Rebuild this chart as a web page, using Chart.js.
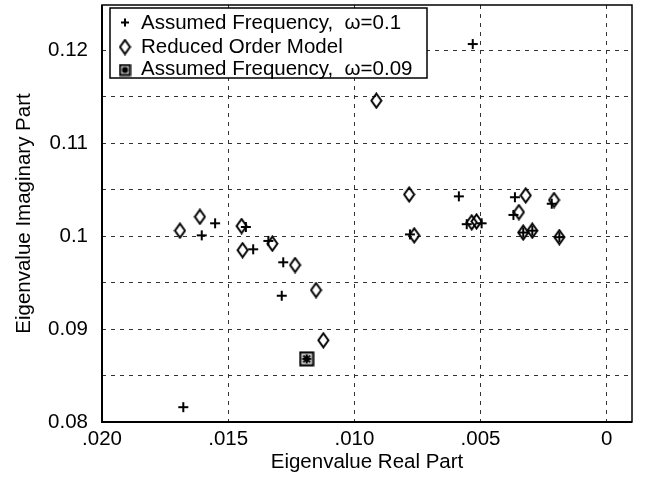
<!DOCTYPE html>
<html>
<head>
<meta charset="utf-8">
<script src="https://cdn.jsdelivr.net/npm/chart.js@4.4.1/dist/chart.umd.min.js"></script>
<style>
  body { margin: 0; background: #fff; }
  #wrap { width: 647px; height: 478px; }
</style>
</head>
<body>
<div id="wrap"><canvas id="eigChart" width="647" height="478"></canvas></div>
<script>
// Eigenvalues (real part, imaginary part)
const plusRe = [0.00531, 0.01678, 0.01552, 0.01605, 0.01430, 0.01401, 0.01341, 0.01282, 0.01288, 0.00780,
                0.00586, 0.00555, 0.00496, 0.00364, 0.00370, 0.00331, 0.00295, 0.00218, 0.00188];
const plusIm = [0.1207, 0.0816, 0.1014, 0.1001, 0.1010, 0.0986, 0.0995, 0.0972, 0.0936, 0.1002,
                0.1043, 0.1013, 0.1014, 0.1042, 0.1023, 0.1004, 0.1006, 0.1035, 0.0999];

const romRe = [0.01691, 0.01612, 0.01447, 0.01443, 0.01325, 0.01235, 0.01152, 0.01123, 0.00913, 0.00783,
               0.00763, 0.00535, 0.00516, 0.00348, 0.00321, 0.00331, 0.00295, 0.00209, 0.00188];
const romIm = [0.1006, 0.1021, 0.1011, 0.0985, 0.0992, 0.0969, 0.0942, 0.0888, 0.1146, 0.1045,
               0.1001, 0.1015, 0.1016, 0.1026, 0.1044, 0.1004, 0.1006, 0.1039, 0.0999];

const w09Re = [0.01189];
const w09Im = [0.0868];

const seriesNames = ['Assumed Frequency,  \u03c9=0.1', 'Reduced Order Model', 'Assumed Frequency,  \u03c9=0.09'];

// tick positions / labels
const xTicks = [0.020, 0.015, 0.010, 0.005, 0];
const xTickLabels = ['.020', '.015', '.010', '.005', '0'];
const yGrid = [0.08, 0.085, 0.09, 0.095, 0.1, 0.105, 0.11, 0.115, 0.12];
const yTickLabels = {0.08: '0.08', 0.09: '0.09', 0.1: '0.1', 0.11: '0.11', 0.12: '0.12'};

const FONT = 'Liberation Sans, Arial, Helvetica, sans-serif';
const FSIZE = 20.5;

// marker images
function plusMarker(n) {
  const c = document.createElement('canvas');
  c.width = n; c.height = n;
  const g = c.getContext('2d');
  g.strokeStyle = '#000'; g.lineWidth = 2;
  g.beginPath();
  g.moveTo(1, n / 2); g.lineTo(n - 1, n / 2);
  g.moveTo(n / 2, 1); g.lineTo(n / 2, n - 1);
  g.stroke();
  return c;
}
function diamondMarker() {
  const c = document.createElement('canvas');
  c.width = 13; c.height = 17;
  const g = c.getContext('2d');
  g.strokeStyle = '#000'; g.lineWidth = 2;
  g.beginPath();
  g.moveTo(6.5, 1.5); g.lineTo(11.5, 8.5); g.lineTo(6.5, 15.5); g.lineTo(1.5, 8.5);
  g.closePath();
  g.stroke();
  return c;
}
function squareStarMarker(n) {
  const c = document.createElement('canvas');
  c.width = n; c.height = n;
  const g = c.getContext('2d');
  const m = n / 2;
  g.fillStyle = '#c8c8c8';
  g.fillRect(1, 1, n - 2, n - 2);
  g.strokeStyle = '#000'; g.lineWidth = 2;
  g.strokeRect(1.5, 1.5, n - 3, n - 3);
  const r = n / 2 - 3.5, d = r * 0.75;
  g.lineWidth = 2;
  g.beginPath();
  g.moveTo(m - r, m); g.lineTo(m + r, m);
  g.moveTo(m, m - r); g.lineTo(m, m + r);
  g.moveTo(m - d, m - d); g.lineTo(m + d, m + d);
  g.moveTo(m + d, m - d); g.lineTo(m - d, m + d);
  g.stroke();
  return c;
}

const markers = [plusMarker(12), diamondMarker(), squareStarMarker(16)];
const legendMarkers = [plusMarker(10), diamondMarker(), squareStarMarker(13)];

function toPoints(xs, ys) {
  return xs.map((x, i) => ({x: x, y: ys[i]}));
}

// frame + legend drawn on top of the chart area
const framePlugin = {
  id: 'frame',
  afterDraw(chart) {
    const {ctx, chartArea: a} = chart;
    ctx.save();
    ctx.strokeStyle = '#000';
    ctx.lineWidth = 1.5;
    ctx.strokeRect(a.left, a.top, a.right - a.left, a.bottom - a.top);
    ctx.lineWidth = 2;
    ctx.beginPath();
    ctx.moveTo(a.left, a.top); ctx.lineTo(a.left, a.bottom); ctx.lineTo(a.right, a.bottom);
    ctx.stroke();

    // legend box
    const bx = 110, by = 8, bw = 317, bh = 70;
    ctx.fillStyle = '#fff';
    ctx.fillRect(bx, by, bw, bh);
    ctx.lineWidth = 1.5;
    ctx.strokeRect(bx, by, bw, bh);
    ctx.font = FSIZE + 'px ' + FONT;
    ctx.fillStyle = '#000';
    ctx.textBaseline = 'alphabetic';
    ctx.textAlign = 'left';
    const baselines = [28.5, 53, 75];
    baselines.forEach((b, i) => {
      const m = legendMarkers[i];
      const cy = b - 7;
      ctx.drawImage(m, 125 - m.width / 2, cy - m.height / 2 + (i === 2 ? 2 : 1));
      ctx.fillText(seriesNames[i], 141, b);
    });
    ctx.restore();
  }
};

const ctx = document.getElementById('eigChart').getContext('2d');
const eigChart = new Chart(ctx, {
  type: 'scatter',
  data: {
    datasets: [
      {label: seriesNames[0], data: toPoints(plusRe, plusIm), pointStyle: markers[0]},
      {label: seriesNames[1], data: toPoints(romRe, romIm), pointStyle: markers[1]},
      {label: seriesNames[2], data: toPoints(w09Re, w09Im), pointStyle: markers[2]}
    ]
  },
  options: {
    responsive: false,
    animation: false,
    layout: {padding: {left: 0, right: 15, top: 4, bottom: 0}},
    plugins: {legend: {display: false}, tooltip: {enabled: false}},
    scales: {
      x: {
        type: 'linear',
        reverse: true,
        min: -0.001,
        max: 0.020,
        afterBuildTicks(scale) { scale.ticks = xTicks.map(v => ({value: v})); },
        afterFit(scale) {
          scale.height = 56;
          scale.paddingLeft = 0; scale.paddingRight = 0;
        },
        ticks: {
          color: '#000',
          font: {family: FONT, size: FSIZE},
          padding: 5,
          maxRotation: 0,
          autoSkip: false,
          callback(v) {
            const i = xTicks.findIndex(t => Math.abs(t - v) < 1e-9);
            return i >= 0 ? xTickLabels[i] : '';
          }
        },
        grid: {color: '#333', lineWidth: 1, drawTicks: false},
        border: {display: false, dash: [4, 5]},
        title: {display: true, text: 'Eigenvalue Real Part', color: '#000',
                font: {family: FONT, size: FSIZE}, padding: {top: 0, bottom: 3}}
      },
      y: {
        type: 'linear',
        min: 0.08,
        max: 0.1249,
        afterBuildTicks(scale) { scale.ticks = yGrid.map(v => ({value: v})); },
        afterFit(scale) {
          scale.width = 102;
          scale.paddingTop = 0; scale.paddingBottom = 0;
        },
        ticks: {
          color: '#000',
          font: {family: FONT, size: FSIZE},
          padding: 14,
          autoSkip: false,
          callback(v) {
            const key = Object.keys(yTickLabels).find(k => Math.abs(parseFloat(k) - v) < 1e-9);
            return key ? yTickLabels[key] : '';
          }
        },
        grid: {color: '#333', lineWidth: 1, drawTicks: false},
        border: {display: false, dash: [4, 5]},
        title: {display: true, text: 'Eigenvalue Imaginary Part', color: '#000',
                font: {family: FONT, size: FSIZE}, padding: {top: 12, bottom: 0}}
      }
    }
  },
  plugins: [framePlugin]
});
</script>
</body>
</html>
